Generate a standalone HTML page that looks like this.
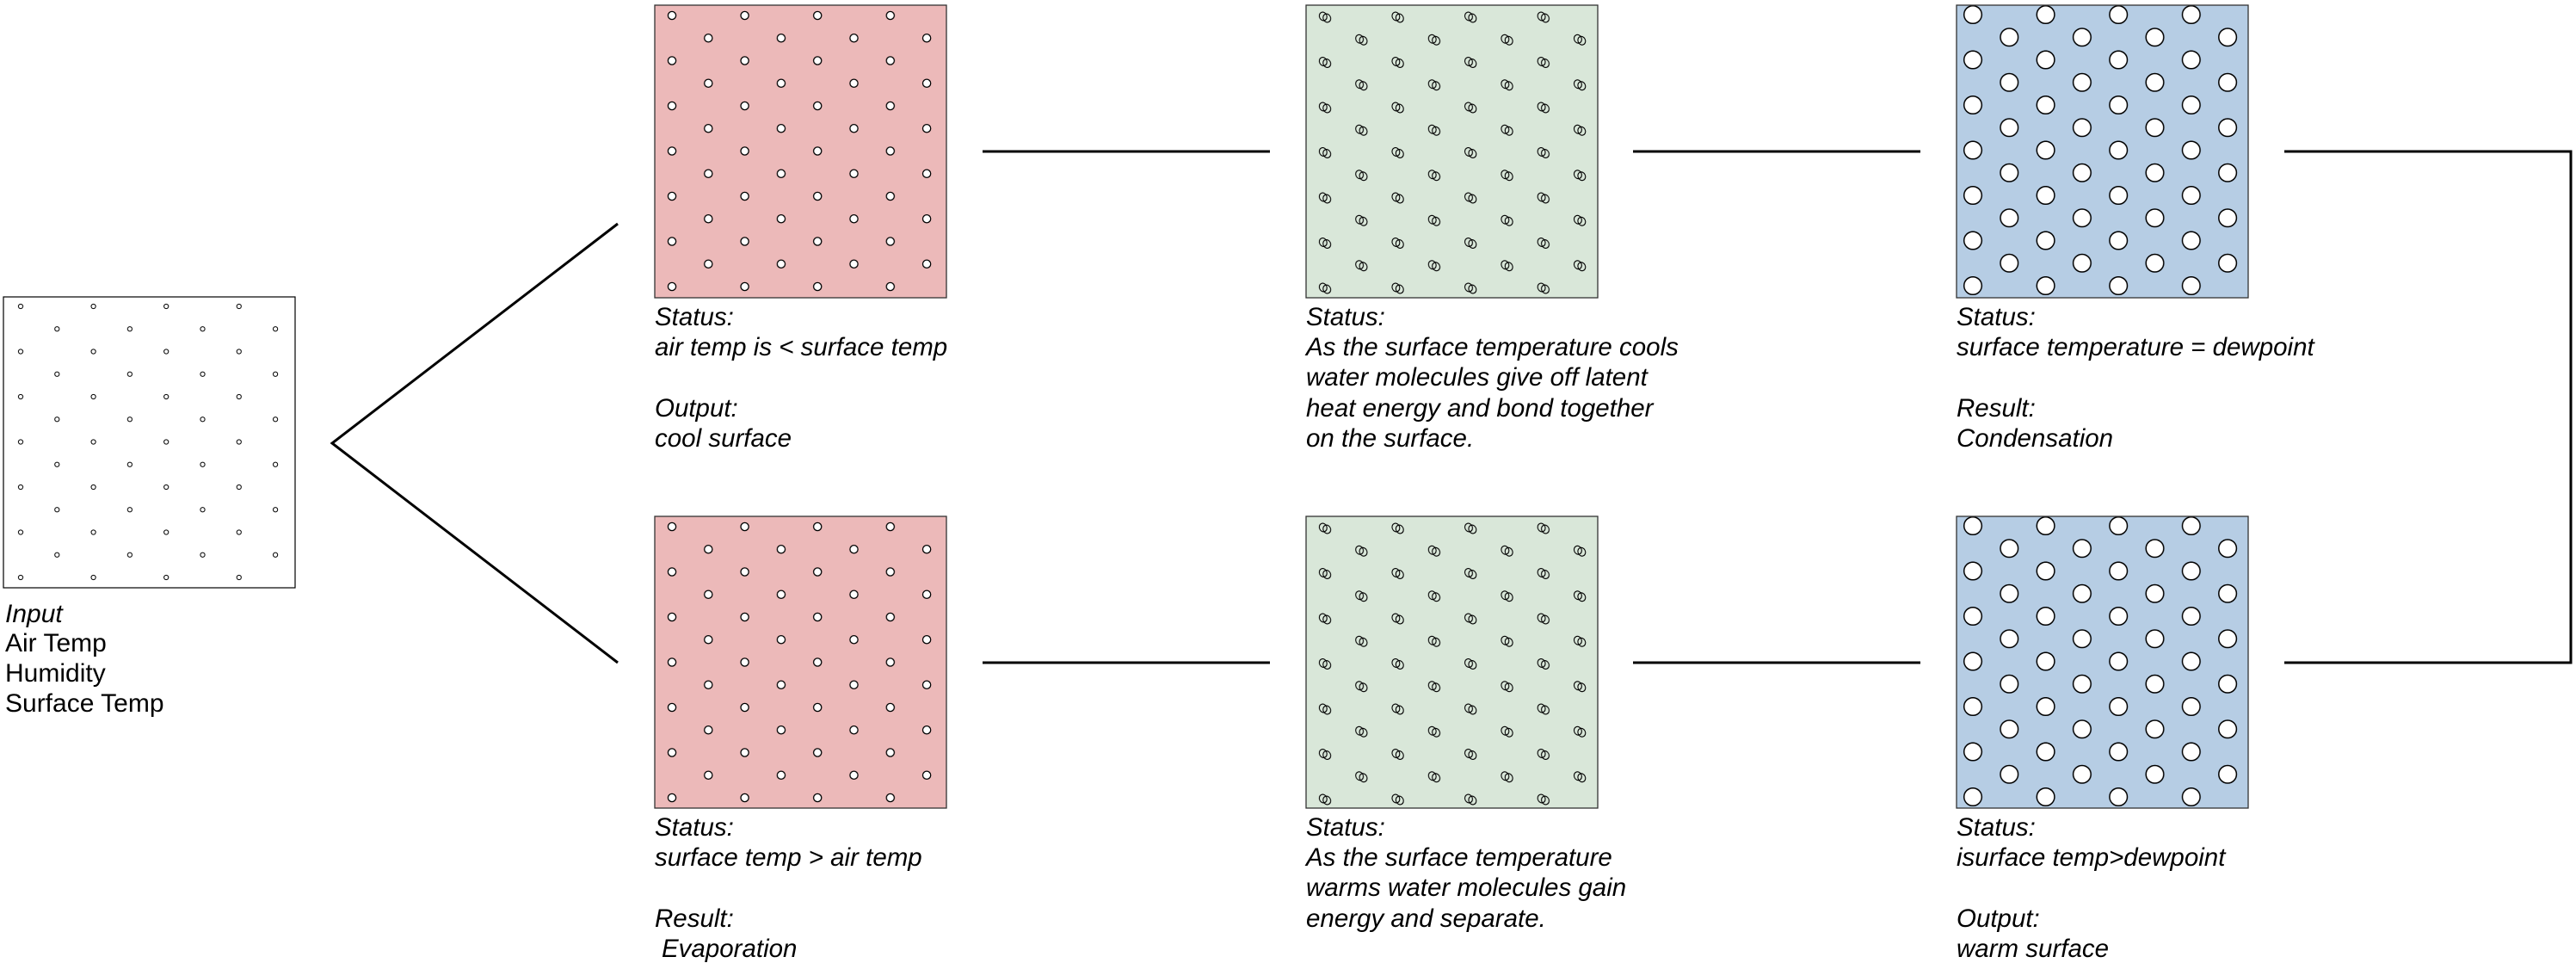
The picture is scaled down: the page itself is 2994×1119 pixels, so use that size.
<!DOCTYPE html>
<html><head><meta charset="utf-8"><style>
html,body{margin:0;padding:0;background:#fff;}
svg{display:block;}
text{font-family:"Liberation Sans",Arial,sans-serif;font-size:29.5px;font-style:italic;fill:#000;}
.in{font-size:30px;font-style:normal;}
.it{font-size:30px;}
</style></head><body>
<svg width="2994" height="1119" viewBox="0 0 2994 1119" xmlns="http://www.w3.org/2000/svg">
<defs>
<pattern id="pIn" patternUnits="userSpaceOnUse" width="84.6" height="52.5">
<circle cx="20" cy="11" r="2.6" fill="#fff" stroke="#000" stroke-width="1"/>
<circle cx="62.3" cy="37.25" r="2.6" fill="#fff" stroke="#000" stroke-width="1"/>
</pattern>
<pattern id="pPink" patternUnits="userSpaceOnUse" width="84.6" height="52.5">
<rect width="84.6" height="52.5" fill="#ecb9b9"/>
<circle cx="20" cy="12" r="4.6" fill="#fff" stroke="#000" stroke-width="1.3"/>
<circle cx="62.3" cy="38.25" r="4.6" fill="#fff" stroke="#000" stroke-width="1.3"/>
</pattern>
<g id="mol">
<ellipse cx="-2.2" cy="-1" rx="4.3" ry="5" transform="rotate(-25 -2.2 -1)" fill="none" stroke="#000" stroke-width="1.1"/>
<ellipse cx="2.2" cy="1" rx="4.3" ry="5" transform="rotate(-25 2.2 1)" fill="none" stroke="#000" stroke-width="1.1"/>
</g>
<pattern id="pGreen" patternUnits="userSpaceOnUse" width="84.6" height="52.5">
<rect width="84.6" height="52.5" fill="#d9e7d9"/>
<use href="#mol" x="22" y="14"/>
<use href="#mol" x="64.3" y="40.25"/>
</pattern>
<pattern id="pBlue" patternUnits="userSpaceOnUse" width="84.6" height="52.5">
<rect width="84.6" height="52.5" fill="#b6cde4"/>
<circle cx="19" cy="11" r="10.3" fill="#fff" stroke="#000" stroke-width="1.5"/>
<circle cx="61.3" cy="37.25" r="10.3" fill="#fff" stroke="#000" stroke-width="1.5"/>
</pattern>
</defs>

<g transform="translate(4,345)"><rect x="0" y="0" width="339" height="338" fill="url(#pIn)" stroke="#000" stroke-width="1.2"/></g>
<text class="it" x="6" y="723">Input</text>
<text class="in" x="6" y="757">Air Temp</text>
<text class="in" x="6" y="792">Humidity</text>
<text class="in" x="6" y="827">Surface Temp</text>

<g transform="translate(761,6)"><rect width="339" height="340" fill="url(#pPink)" stroke="#333" stroke-width="1.3"/></g>
<g transform="translate(1518,6)"><rect width="339" height="340" fill="url(#pGreen)" stroke="#333" stroke-width="1.3"/></g>
<g transform="translate(2274,6)"><rect width="339" height="340" fill="url(#pBlue)" stroke="#333" stroke-width="1.3"/></g>
<g transform="translate(761,600)"><rect width="339" height="339" fill="url(#pPink)" stroke="#333" stroke-width="1.3"/></g>
<g transform="translate(1518,600)"><rect width="339" height="339" fill="url(#pGreen)" stroke="#333" stroke-width="1.3"/></g>
<g transform="translate(2274,600)"><rect width="339" height="339" fill="url(#pBlue)" stroke="#333" stroke-width="1.3"/></g>

<g stroke="#000" stroke-width="3" fill="none">
<polyline points="718,260 386,515 718,770"/>
<line x1="1142" y1="176" x2="1476" y2="176"/>
<line x1="1898" y1="176" x2="2232" y2="176"/>
<polyline points="2655,176 2988,176 2988,770 2655,770"/>
<line x1="1142" y1="770" x2="1476" y2="770"/>
<line x1="1898" y1="770" x2="2232" y2="770"/>
</g>

<text x="761" y="378">Status:</text>
<text x="761" y="413">air temp is &lt; surface temp</text>
<text x="761" y="484">Output:</text>
<text x="761" y="519">cool surface</text>

<text x="1518" y="378">Status:</text>
<text x="1518" y="413">As the surface temperature cools</text>
<text x="1518" y="448">water molecules give off latent</text>
<text x="1518" y="484">heat energy and bond together</text>
<text x="1518" y="519">on the surface.</text>

<text x="2274" y="378">Status:</text>
<text x="2274" y="413">surface temperature = dewpoint</text>
<text x="2274" y="484">Result:</text>
<text x="2274" y="519">Condensation</text>

<text x="761" y="971">Status:</text>
<text x="761" y="1006">surface temp &gt; air temp</text>
<text x="761" y="1077">Result:</text>
<text x="769" y="1112">Evaporation</text>

<text x="1518" y="971">Status:</text>
<text x="1518" y="1006">As the surface temperature</text>
<text x="1518" y="1041">warms water molecules gain</text>
<text x="1518" y="1077">energy and separate.</text>

<text x="2274" y="971">Status:</text>
<text x="2274" y="1006">isurface temp&gt;dewpoint</text>
<text x="2274" y="1077">Output:</text>
<text x="2274" y="1112">warm surface</text>
</svg>
</body></html>
